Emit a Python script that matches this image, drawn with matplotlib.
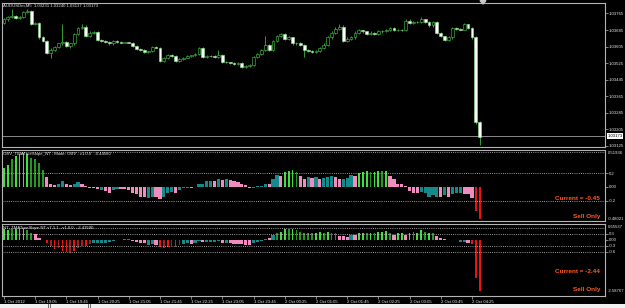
import numpy as np
import matplotlib.pyplot as plt
from matplotlib.patches import Polygon, Rectangle

plt.rcParams['font.family'] = ['Liberation Sans', 'DejaVu Sans']

W, H = 625, 308

symbol_title = "AUDUSDm,M5  1.03231 1.03240 1.03137 1.03173"
obv_title = "OBV_TMATrueSlope_NT - Mode: OBV - v1.0.0   -0.44580"
tma_title = "NT_TMATrueSlope NT v7.1.1 - v1.0.0   -2.43590"

# AUDUSDm M5 bars, prices in points above 1.03000
first_open = 721
closes = [736, 746, 755, 741, 746, 770, 775, 712, 721, 649,
          634, 576, 590, 605, 620, 629, 610, 620, 668, 697,
          702, 654, 673, 675, 639, 634, 629, 620, 634, 629,
          624, 626, 624, 610, 595, 590, 581, 583, 605, 600,
          537, 552, 566, 561, 537, 547, 552, 561, 563, 571,
          600, 557, 561, 560, 557, 566, 532, 530, 527, 523,
          527, 508, 513, 518, 557, 571, 590, 615, 590, 634,
          654, 668, 644, 649, 620, 624, 615, 590, 586, 581,
          586, 600, 615, 649, 673, 692, 702, 634, 644, 649,
          673, 683, 678, 668, 673, 668, 678, 680, 683, 697,
          683, 687, 685, 731, 721, 723, 726, 736, 726, 707,
          726, 673, 654, 639, 649, 697, 692, 687, 712, 697,
          649, 241, 168]
highs = [741, 751, 785, 760, 751, 775, 785, 780, 726, 726,
         654, 639, 600, 610, 624, 712, 634, 624, 673, 702,
         712, 707, 678, 680, 680, 644, 639, 634, 639, 636,
         631, 629, 629, 627, 612, 598, 593, 586, 610, 608,
         603, 556, 571, 569, 564, 552, 556, 566, 566, 576,
         605, 603, 566, 563, 562, 590, 569, 535, 532, 530,
         532, 530, 517, 522, 561, 576, 595, 654, 618, 639,
         659, 673, 670, 654, 652, 629, 627, 618, 593, 590,
         590, 605, 620, 654, 678, 702, 712, 707, 649, 654,
         678, 688, 687, 681, 678, 676, 683, 685, 690, 702,
         700, 692, 692, 736, 736, 728, 731, 746, 738, 729,
         731, 731, 676, 657, 654, 702, 702, 697, 717, 716,
         702, 654, 246]
lows = [716, 731, 741, 736, 736, 741, 765, 707, 707, 644,
        629, 571, 552, 585, 600, 615, 605, 600, 615, 663,
        692, 649, 649, 668, 634, 629, 624, 615, 615, 624,
        620, 620, 620, 605, 590, 586, 576, 576, 578, 597,
        532, 532, 547, 557, 532, 532, 542, 549, 557, 559,
        566, 552, 552, 556, 552, 552, 527, 525, 523, 518,
        518, 503, 503, 508, 513, 552, 566, 586, 586, 586,
        629, 649, 639, 639, 615, 615, 610, 557, 581, 576,
        576, 581, 595, 610, 644, 668, 687, 629, 629, 639,
        644, 668, 673, 663, 663, 663, 663, 673, 676, 678,
        678, 678, 680, 680, 716, 716, 719, 721, 721, 702,
        702, 668, 649, 634, 634, 644, 687, 683, 683, 692,
        644, 231, 130]
bid = 1.03173
price_ticks = [1.03765, 1.03685, 1.03605, 1.03525, 1.03445,
               1.03365, 1.03285, 1.03205, 1.03125]

# OBV TMA true slope histogram
obv_vals = [0.27, 0.32, 0.40, 0.44, 0.47, 0.48, 0.47, 0.42, 0.40, 0.34,
            0.24, 0.14, 0.05, 0.03, 0.04, 0.09, 0.05, 0.03, 0.04, 0.07,
            0.04, 0.01, -0.01, -0.02, -0.03, -0.04, -0.06, -0.08, -0.05, -0.03,
            -0.03, -0.03, -0.05, -0.08, -0.10, -0.14, -0.15, -0.16, -0.15, -0.15,
            -0.17, -0.15, -0.09, -0.07, -0.09, -0.05, -0.02, -0.01, -0.01, 0.005,
            0.04, 0.04, 0.08, 0.09,
            0.08, 0.11, 0.10, 0.11, 0.10, 0.08, 0.07, 0.04, 0.03, -0.02,
            -0.01, 0.01, 0.01, 0.05, 0.04, 0.11, 0.17, 0.16, 0.22, 0.23,
            0.24, 0.21, 0.16, 0.12, 0.14, 0.13, 0.14, 0.11, 0.13, 0.14,
            0.16, 0.15, 0.11, 0.12, 0.13, 0.17, 0.16, 0.20, 0.22, 0.23,
            0.22, 0.22, 0.23, 0.23, 0.23, 0.16, 0.12, 0.05, 0.04, 0.02,
            -0.06,
            -0.09, -0.08, -0.07, -0.09, -0.14, -0.11, -0.14, -0.15, -0.11, -0.14,
            -0.10, -0.08, -0.08, -0.10, -0.10, -0.16, -0.35, -0.46]
obv_cols = ("LLGLLLLGGGG" "PPPTTPPTTPPPPPTPPTTPPPPPPPTTPPTTTPTTTPTTTTT"
            "PTPTPPPPPP" "TTTTPTTP" "LLLG" "PPTPTPTTTPPTTTP" "LLLGLLGL" "PPPPPP"
            "PPTTTTTPTPTTTPPPRR")

# TMA true slope histogram
tma_vals = [0.51, 0.48, 0.52, 0.55, 0.52, 0.60, 0.50, 0.34, 0.30, 0.06,
            -0.03, -0.19, -0.32, -0.49, -0.44, -0.56, -0.61, -0.66, -0.56, -0.44,
            -0.32, -0.32, -0.22, -0.16, -0.19, -0.19, -0.16, -0.11, -0.06, -0.02,
            -0.01, 0.01, 0.01, -0.06, -0.11, -0.16, -0.19, -0.27, -0.22, -0.27,
            -0.39, -0.44, -0.36, -0.32, -0.39, -0.27, -0.22, -0.16, -0.22, -0.16,
            -0.06, -0.12, -0.10, -0.12,
            -0.11, -0.06, -0.16, -0.16, -0.19, -0.22, -0.22, -0.22, -0.27, -0.27,
            -0.16, -0.11, -0.06, 0.01, 0.06, 0.22, 0.34, 0.39, 0.52, 0.55,
            0.52, 0.48, 0.39, 0.34, 0.31, 0.31, 0.34, 0.39, 0.34, 0.39,
            0.34, 0.31, 0.18, 0.18, 0.14, 0.22, 0.22, 0.31, 0.34, 0.34,
            0.34, 0.34, 0.39, 0.39, 0.44, 0.34, 0.22, 0.31, 0.31, 0.22,
            0.31,
            0.39, 0.31, 0.48, 0.39, 0.34, 0.34, 0.18, 0.06, 0.01, -0.03,
            -0.03, -0.03, -0.11, -0.11, -0.16, -0.22, -1.90, -2.59]
tma_cols = ("LLGLLLGG" "PPP" "RDRDRRDRDDRD" "TTTTTTTTTT" "PPPP" "TT" "P"
            "RDRDRD" "TT" "P" "TT" "P" "TT"
            "TTPTPPPPPPTTTTPT" "GLLGLGGGGGLLGLGG" "PPPTP" "LLGLGLLLG" "PLLPL"
            "GLLGLGPPPPPPTTPRRR")

time_labels = ["1 Oct 2012", "1 Oct 19:05", "1 Oct 19:45", "1 Oct 20:25",
               "1 Oct 21:05", "1 Oct 21:45", "1 Oct 22:25", "1 Oct 23:05",
               "1 Oct 23:45", "2 Oct 00:25", "2 Oct 01:05", "2 Oct 01:45",
               "2 Oct 02:25", "2 Oct 03:05", "2 Oct 03:45", "2 Oct 04:25"]

palette = {'L': '#3ee03e', 'G': '#1f9a1f', 'P': '#f08cc0', 'T': '#168a8a',
           'R': '#e81414', 'D': '#a51e1e'}
thin = {'L': 0.45, 'G': 0.45, 'R': 0.4, 'D': 0.4, 'P': 0.8, 'T': 0.8}

frame = '#b4b4b4'
txt = '#e6e6e6'
fs = 3.1

fig = plt.figure(figsize=(W / 100, H / 100), dpi=100, facecolor='black')


def px_axes(x0, y0, x1, y1):
    a = fig.add_axes([x0 / W, 1 - y1 / H, (x1 - x0) / W, (y1 - y0) / H])
    a.set_facecolor('black')
    for s in a.spines.values():
        s.set_color(frame)
        s.set_linewidth(0.8)
    a.yaxis.tick_right()
    a.tick_params(axis='y', colors=frame, labelcolor=txt, labelsize=fs,
                  length=1.8, width=0.5, pad=1)
    a.tick_params(axis='x', bottom=False, labelbottom=False)
    return a


n = len(closes)
xs = np.arange(n)
xlim = (-0.5, -0.5 + 603 / 3.9)

ax1 = px_axes(2, 2.5, 605, 147)
ax2 = px_axes(2, 149.5, 605, 221)
ax3 = px_axes(2, 223.5, 605, 296)
for a in (ax1, ax2, ax3):
    a.set_xlim(*xlim)

# candles
c = np.array(closes) / 1e5 + 1.03
o = np.r_[first_open, closes[:-1]] / 1e5 + 1.03
hi = np.array(highs) / 1e5 + 1.03
lo = np.array(lows) / 1e5 + 1.03
bull = c >= o
ax1.vlines(xs, lo, hi, color='#3cb83c', lw=0.6, zorder=2)
ax1.bar(xs, np.maximum(np.abs(c - o), 1e-6), bottom=np.minimum(o, c), width=0.7,
        color=np.where(bull, 'black', 'white'), edgecolor=np.where(bull, '#3cb83c', '#8fdc8f'),
        linewidth=0.45, zorder=3)
ax1.axhline(bid, color='#a0a0a0', lw=0.6, zorder=1)
ax1.set_ylim(1.03120, 1.03818)
ax1.set_yticks(price_ticks)
ax1.set_yticklabels(['%.5f' % p for p in price_ticks])
ax1.text(1 + 2.5 / 603, bid, '%.5f' % bid, transform=ax1.get_yaxis_transform(),
         fontsize=fs, color='black', va='center', ha='left',
         bbox=dict(facecolor='white', edgecolor='none', pad=0.4))
fig.text(3 / W, 1 - 6 / H, symbol_title, fontsize=fs, color=txt, va='center')

# OBV slope panel
ax2.bar(xs, obv_vals, width=[thin[k] for k in obv_cols],
        color=[palette[k] for k in obv_cols], linewidth=0)
for lv in (0.5, 0.2, -0.2):
    ax2.axhline(lv, color='#c8c8c8', lw=0.6, ls=(0, (1, 1.6)))
ax2.set_ylim(-0.486, 0.536)
ax2.set_yticks([0.2, 0.0, -0.2])
ax2.set_yticklabels(['0.2', '0.00', '-0.2'])
fig.text(608 / W, 1 - 152.5 / H, '0.51936', fontsize=fs, color=txt, va='center')
fig.text(608 / W, 1 - 219.5 / H, '-0.48021', fontsize=fs, color=txt, va='center')
fig.text(3 / W, 1 - 154 / H, obv_title, fontsize=fs, color=txt, va='center')

# TMA slope panel
ax3.bar(xs, tma_vals, width=[thin[k] for k in tma_cols],
        color=[palette[k] for k in tma_cols], linewidth=0)
for lv in (0.6, 0.3, -0.3, -0.6):
    ax3.axhline(lv, color='#c8c8c8', lw=0.6, ls=(0, (1, 1.6)))
ax3.set_ylim(-2.825, 0.8)
ax3.set_yticks([0.3, 0.0, -0.3, -0.6])
ax3.set_yticklabels(['0.3', '0.00', '-0.3', '-0.6'])
fig.text(608 / W, 1 - 226.5 / H, '0.65537', fontsize=fs, color=txt, va='center')
fig.text(608 / W, 1 - 291.5 / H, '-2.58767', fontsize=fs, color=txt, va='center')
fig.text(3 / W, 1 - 227.5 / H, tma_title, fontsize=fs, color=txt, va='center')

# time axis
ax3.set_xticks(xs[::8])
ax3.set_xticklabels(time_labels, ha='left')
ax3.tick_params(axis='x', bottom=True, labelbottom=True, colors=frame,
                labelcolor=txt, labelsize=fs, length=2, width=0.5, pad=0.8)

# signal texts
orange = '#ff5a1e'
for y, s in [(198, 'Current = -0.45'), (216.5, 'Sell Only'),
             (271.5, 'Current = -2.44'), (290, 'Sell Only')]:
    fig.text(600 / W, 1 - y / H, s, fontsize=4.6, color=orange,
             fontweight='bold', ha='right', va='center')

# chart shift marker
fig.patches.append(Polygon([[480 / W, 1 - 0.5 / H], [486 / W, 1 - 0.5 / H],
                            [483 / W, 1 - 4 / H]], closed=True,
                           transform=fig.transFigure, color='#c8c8c8'))

# tab strip at the bottom
fig.patches.append(Rectangle((0, 0), 1, 4.5 / H, transform=fig.transFigure,
                             facecolor='#f0f0f0', edgecolor='none'))
for xp in (48, 50, 88, 90):
    fig.patches.append(Rectangle((xp / W, 0), 0.8 / W, 4.5 / H, transform=fig.transFigure,
                                 facecolor='#707070', edgecolor='none'))

fig.savefig('out.png', dpi=100, facecolor='black')
